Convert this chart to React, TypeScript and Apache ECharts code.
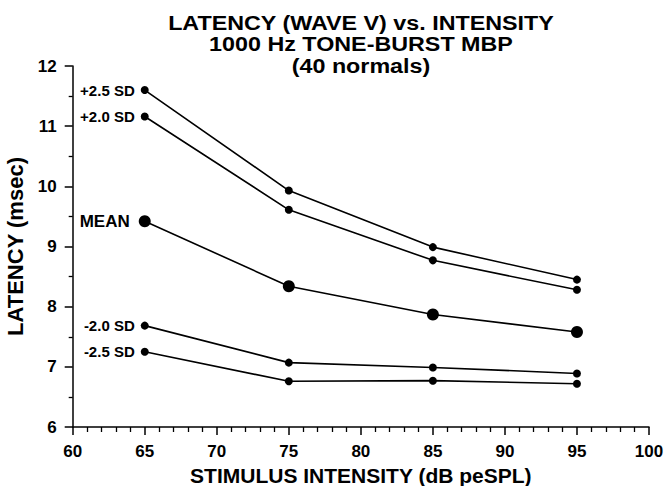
import React, { useEffect, useRef } from "react";
import * as echarts from "echarts";

const intensities = [65, 75, 85, 95];
const plus25 = [11.6, 9.93, 8.99, 8.45];
const plus20 = [11.16, 9.61, 8.77, 8.28];
const mean = [9.42, 8.34, 7.87, 7.58];
const minus20 = [7.685, 7.07, 6.99, 6.89];
const minus25 = [7.25, 6.76, 6.77, 6.72];

const seriesNames = ["+2.5 SD", "+2.0 SD", "MEAN", "-2.0 SD", "-2.5 SD"];
const seriesValues = [plus25, plus20, mean, minus20, minus25];

const titleLines = ["LATENCY (WAVE V) vs. INTENSITY", "1000 Hz TONE-BURST MBP", "(40 normals)"];
const xTitle = "STIMULUS INTENSITY (dB peSPL)";
const yTitle = "LATENCY (msec)";

const FONT = "'Liberation Sans', Arial, sans-serif";

export default function App() {
  const ref = useRef<HTMLDivElement>(null);
  useEffect(() => {
    if (!ref.current) return;
    const chart = echarts.init(ref.current, null, { renderer: "svg" });
    const series = seriesNames.map((name, si) => {
      const isMean = name === "MEAN";
      return {
        name,
        type: "line",
        symbol: "circle",
        symbolSize: isMean ? 12 : 8,
        lineStyle: { color: "#000", width: 1.6 },
        itemStyle: { color: "#000" },
        data: intensities.map((x, i) => {
          const item: any = { value: [x, seriesValues[si][i]] };
          if (i === 0) {
            item.label = {
              show: true,
              position: "left",
              distance: isMean ? 9 : 6,
              formatter: name,
              color: "#000",
              fontFamily: FONT,
              fontWeight: "bold",
              fontSize: isMean ? 17 : 15,
            };
          }
          return item;
        }),
      };
    });
    chart.setOption({
      animation: false,
      backgroundColor: "#fff",
      grid: { left: 72.7, right: 15, top: 66, bottom: 59, containLabel: false, outerBoundsMode: "none" },
      graphic: titleLines.map((t, i) => ({
        type: "text",
        x: 361,
        y: [22.5, 44, 65.5][i],
        scaleX: 1.11,
        style: {
          text: t,
          fontFamily: FONT,
          fontWeight: "bold",
          fontSize: 21,
          fill: "#000",
          textAlign: "center",
          textVerticalAlign: "middle",
        },
      })),
      xAxis: {
        type: "value",
        min: 60,
        max: 100,
        interval: 5,
        name: xTitle,
        nameLocation: "middle",
        nameGap: 35,
        nameTextStyle: { fontFamily: FONT, fontWeight: "bold", fontSize: 21, color: "#000" },
        axisLine: { show: true, onZero: false, lineStyle: { color: "#000", width: 1.5 } },
        axisTick: { show: true, inside: false, length: 8, lineStyle: { color: "#000", width: 1.5 } },
        minorTick: { show: true, splitNumber: 5, length: 5, lineStyle: { color: "#000", width: 1.3 } },
        axisLabel: { fontFamily: FONT, fontWeight: "bold", fontSize: 17, color: "#000", margin: 16 },
        splitLine: { show: false },
      },
      yAxis: {
        type: "value",
        min: 6,
        max: 12,
        interval: 1,
        name: yTitle,
        nameLocation: "middle",
        nameGap: 42,
        nameRotate: 90,
        nameTextStyle: { fontFamily: FONT, fontWeight: "bold", fontSize: 22, color: "#000" },
        axisLine: { show: true, onZero: false, lineStyle: { color: "#000", width: 1.5 } },
        axisTick: { show: true, inside: false, length: 8, lineStyle: { color: "#000", width: 1.5 } },
        minorTick: { show: true, splitNumber: 2, length: 4, lineStyle: { color: "#000", width: 1.3 } },
        axisLabel: { fontFamily: FONT, fontWeight: "bold", fontSize: 17, color: "#000", margin: 16 },
        splitLine: { show: false },
      },
      series,
    });
    return () => chart.dispose();
  }, []);
  return <div ref={ref} style={{ width: 664, height: 486, position: "absolute", left: 0, top: 0 }} />;
}
